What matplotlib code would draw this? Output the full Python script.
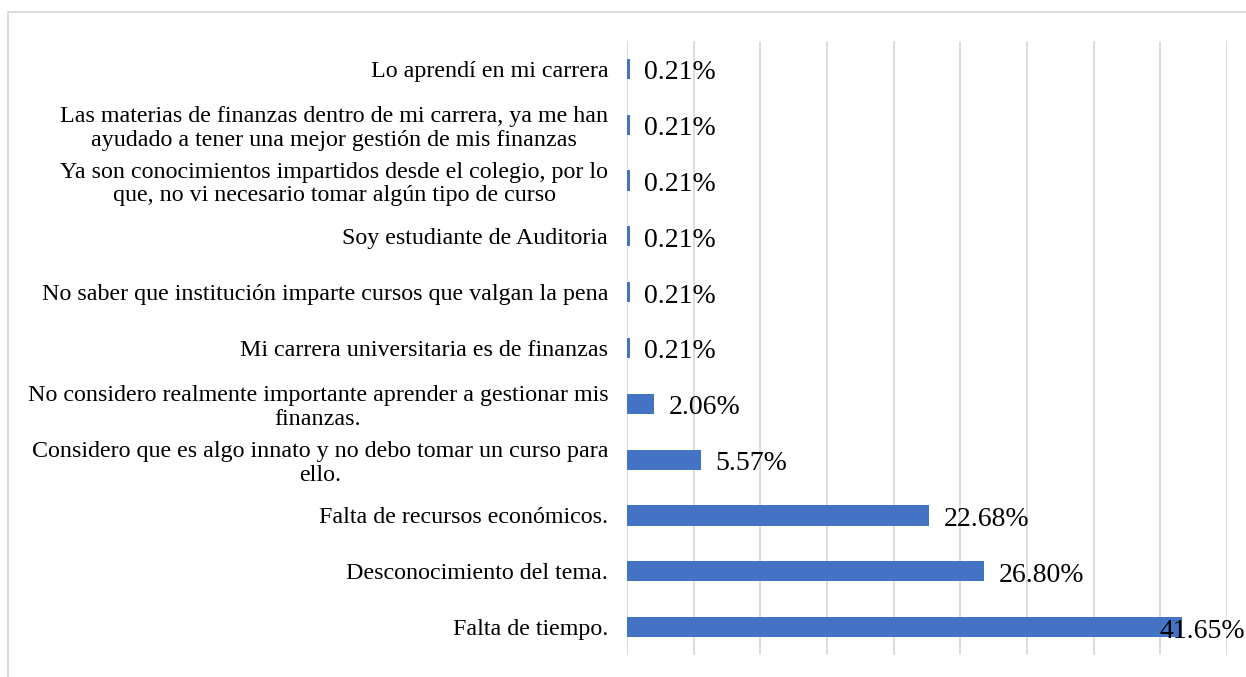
import matplotlib
matplotlib.use("Agg")
import matplotlib.pyplot as plt
from matplotlib.patches import Rectangle
from matplotlib.transforms import offset_copy

categories = [
    "Falta de tiempo.",
    "Desconocimiento del tema.",
    "Falta de recursos económicos.",
    "Considero que es algo innato y no debo tomar un curso para\nello.",
    "No considero realmente importante aprender a gestionar mis\nfinanzas.",
    "Mi carrera universitaria es de finanzas",
    "No saber que institución imparte cursos que valgan la pena",
    "Soy estudiante de Auditoria",
    "Ya son conocimientos impartidos desde el colegio, por lo\nque, no vi necesario tomar algún tipo de curso",
    "Las materias de finanzas dentro de mi carrera, ya me han\nayudado a tener una mejor gestión de mis finanzas",
    "Lo aprendí en mi carrera",
]
values = [41.65, 26.80, 22.68, 5.57, 2.06, 0.21, 0.21, 0.21, 0.21, 0.21, 0.21]
value_labels = ["41.65%", "26.80%", "22.68%", "5.57%", "2.06%", "0.21%", "0.21%",
                "0.21%", "0.21%", "0.21%", "0.21%"]

W, H = 1246, 677
fig = plt.figure(figsize=(W / 100, H / 100), dpi=100)
plt.rcParams['font.family'] = ['Liberation Serif', 'DejaVu Serif']

# chart-area border
fig.patches.append(Rectangle((8 / W, -0.05), 1.1, 1.05 - 12 / H, transform=fig.transFigure,
                             fill=False, edgecolor='#d9d9d9', linewidth=1.3))

left, right, top, bottom = 627, 1227, 41, 655
ax = fig.add_axes([left / W, 1 - bottom / H, (right - left) / W, (bottom - top) / H])

y = list(range(len(categories)))
ax.barh(y, values, height=0.36, color='#4472C4', zorder=3)
ax.set_xlim(0, 45)
ax.set_ylim(-0.5, len(categories) - 0.5)
ax.set_xticks([i * 5 for i in range(10)])
ax.xaxis.grid(True, color='#d9d9d9', linewidth=1.3, zorder=0)
ax.tick_params(axis='x', length=0, labelbottom=False)
ax.tick_params(axis='y', length=0, pad=13.5)
ax.set_yticks(y)
ax.set_yticklabels(categories, fontsize=17.3, ha='right', multialignment='center',
                   linespacing=1.15)
for s in ax.spines.values():
    s.set_visible(False)

fig.canvas.draw()
r = fig.canvas.get_renderer()

limit_px = 1245
for yi, v, t in zip(y, values, value_labels):
    txt = ax.text(v, yi, t, fontsize=20, va='center', ha='left', zorder=4,
                  transform=offset_copy(ax.transData, fig=fig, x=14, y=-4, units='dots'))
    fig.canvas.draw()
    bb = txt.get_window_extent(r)
    if bb.x1 > limit_px:
        shift = bb.x1 - limit_px
        txt.set_transform(offset_copy(ax.transData, fig=fig, x=14 - shift, y=-4, units='dots'))

fig.savefig("out.png", dpi=100)
